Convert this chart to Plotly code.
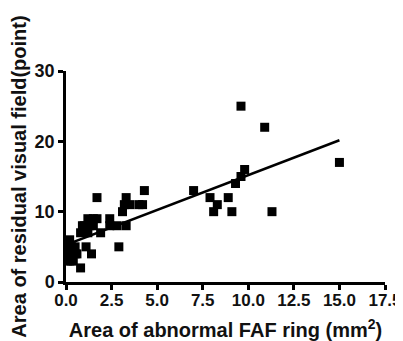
import plotly.graph_objects as go

faf_area = [0.1, 0.2, 0.3, 0.4, 0.2, 0.3, 0.5, 0.6, 0.1, 0.3, 0.5, 0.2, 0.8, 1.1, 1.4,
            0.8, 0.9, 1.0, 1.2, 1.3, 1.5, 1.2, 1.5, 1.7, 1.9, 1.7, 2.4, 2.4, 2.8, 2.9,
            3.3, 3.1, 3.2, 3.3, 3.5, 4.0, 4.2, 4.3, 7.0, 7.9, 8.1, 8.3, 8.9, 9.1, 9.3,
            9.6, 9.8, 9.6, 10.9, 11.3, 15.0]
vf_area = [3, 3, 3, 3, 4, 4, 4, 4, 5, 5, 5, 6, 2, 5, 4,
           7, 8, 8, 7, 8, 8, 9, 9, 9, 7, 12, 9, 8, 8, 5,
           8, 10, 11, 12, 11, 11, 11, 13, 13, 12, 10, 11, 12, 10, 14,
           15, 16, 25, 22, 10, 17]

fit_slope = 0.99
fit_intercept = 5.3
fit_x = [0.0, 15.0]
fit_y = [fit_intercept + fit_slope * v for v in fit_x]

x_ticks = [0, 2.5, 5, 7.5, 10, 12.5, 15, 17.5]
x_tick_labels = ["0.0", "2.5", "5.0", "7.5", "10.0", "12.5", "15.0", "17.5"]
y_ticks = [0, 10, 20, 30]

fig = go.Figure()
fig.add_trace(go.Scatter(x=faf_area, y=vf_area, mode="markers",
                         marker=dict(symbol="square", size=9, color="black"),
                         cliponaxis=False, showlegend=False))
fig.add_trace(go.Scatter(x=fit_x, y=fit_y, mode="lines",
                         line=dict(color="black", width=2.5),
                         cliponaxis=False, showlegend=False))

font_family = "Liberation Sans, Arial, sans-serif"
# page body has an 8px default margin, so the figure is sized to fit the rest
fig.update_layout(
    width=395, height=333,
    margin=dict(l=58, r=18, t=63, b=59),
    paper_bgcolor="white", plot_bgcolor="white",
    font=dict(family=font_family, color="#111", size=14),
)
fig.update_xaxes(range=[0, 17.5], tickvals=x_ticks, ticktext=x_tick_labels,
                 automargin=False, ticklabeloverflow="allow",
                 showgrid=False, zeroline=False, showline=True, linecolor="black",
                 linewidth=2.5, ticks="outside", ticklen=5, tickwidth=2.5,
                 tickcolor="black", ticklabelstandoff=-4,
                 tickfont=dict(family=font_family, size=17, color="#111", weight="bold"),
                 title=dict(text="Area of abnormal FAF ring (mm<sup>2</sup>)",
                            font=dict(family=font_family, size=20, color="#111", weight="bold"),
                            standoff=15))
fig.update_yaxes(range=[0, 30], tickvals=y_ticks,
                 automargin=False,
                 showgrid=False, zeroline=False, showline=True, linecolor="black",
                 linewidth=2.5, ticks="outside", ticklen=5, tickwidth=2.5,
                 tickcolor="black",
                 tickfont=dict(family=font_family, size=18, color="#111", weight="bold"),
                 title=dict(text="Area of residual visual field(point)",
                            font=dict(family=font_family, size=20, color="#111", weight="bold"),
                            standoff=6))

fig.write_html("out.html")
